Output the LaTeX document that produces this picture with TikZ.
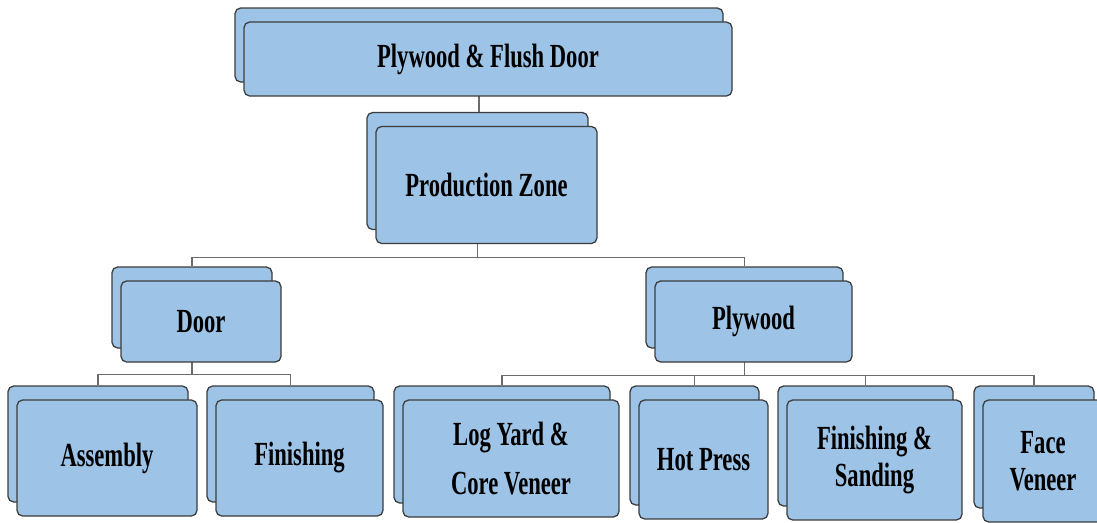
\documentclass[tikz,border=0pt]{standalone}
\usepackage{fontspec}
\setmainfont[FakeStretch=0.67]{Liberation Serif}
\usetikzlibrary{backgrounds}
\definecolor{boxblue}{RGB}{157,195,230}
\definecolor{edgegray}{RGB}{60,60,60}

\begin{document}
\begin{tikzpicture}[x=0.025cm, y=-0.025cm,
  BK/.style={draw=edgegray, fill=boxblue, line width=0.9pt, rounded corners=4pt, inner sep=2pt},
  FR/.style={BK, align=center, font=\fontsize{24}{26}\selectfont\bfseries},
  LN/.style={draw=gray!85!black, line width=0.9pt}
]
  \useasboundingbox (0,0) rectangle (1097,522);

  % back card + front card, front shifted down right
  \foreach \n/\x/\y/\w/\h/\t in {
      top/479/45/488/74/{Plywood \& Flush Door},
      prod/477.5/171/221/117/{Production Zone},
      door/192/307.5/160/81/{Door},
      ply/744.5/307.5/197/81/{Plywood},
      asm/98/444/180/116/{Assembly},
      fin/290.5/444/167/116/{Finishing},
      log/502/444.5/216/117/{Log Yard \&\\[9pt]Core Veneer},
      hot/694.5/445.5/129/119/{Hot Press},
      fs/865.5/446/175/120/{Finishing \&\\Sanding},
      face/1034/447/120/122/{Face\\Veneer}}{
    \node[BK, minimum width=\w*0.025cm, minimum height=\h*0.025cm] (\n-b) at (\x,\y) {};
    \node[FR, minimum width=\w*0.025cm, minimum height=\h*0.025cm] (\n) at ({\x+9},{\y+14}) {\t};
  }

  \begin{scope}[on background layer]
    \path (prod-b.south) ++(0,27) coordinate (j1);
    \path (door-b.south) ++(0,26) coordinate (j2);
    \path (ply-b.south)  ++(0,27) coordinate (j3);
    \draw[LN] (top-b.south) -- (top-b.south |- prod-b.north);
    \draw[LN] (prod-b.south) -- (j1);
    \draw[LN] (door-b.south) -- (j2);
    \draw[LN] (ply-b.south) -- (j3);
    \foreach \p/\c in {j1/door,j1/ply,j2/asm,j2/fin,j3/log,j3/hot,j3/fs,j3/face}
      \draw[LN] (\c-b.north) |- (\p);
  \end{scope}
\end{tikzpicture}
\end{document}
